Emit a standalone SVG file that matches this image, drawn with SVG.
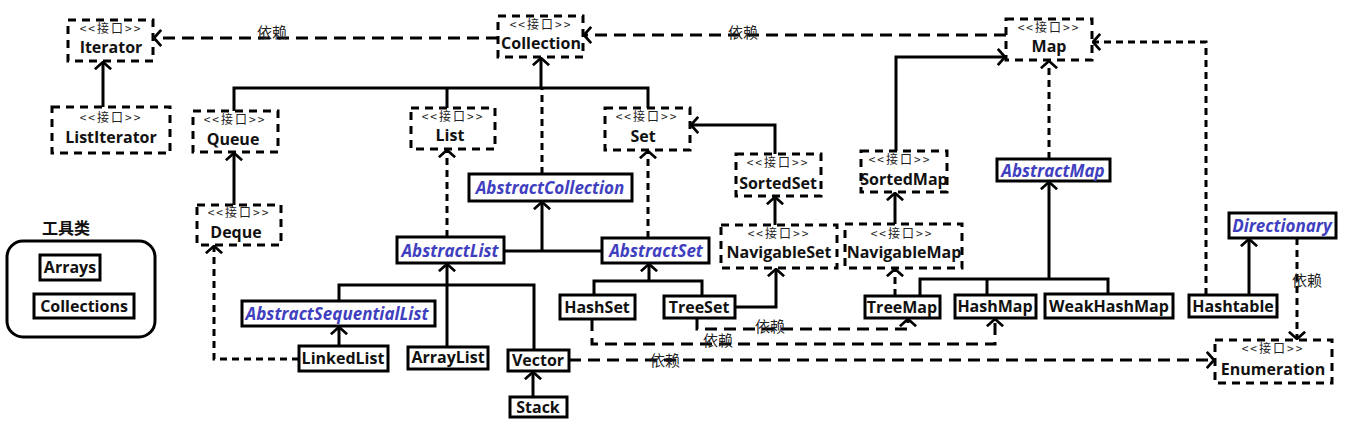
<svg xmlns="http://www.w3.org/2000/svg" width="1346" height="428" viewBox="0 0 1346 428">
<style>
.bg{fill:#fff}
.ibox{fill:#fff;stroke:#000;stroke-width:3;stroke-dasharray:8,6}
.cbox{fill:#fff;stroke:#000;stroke-width:3}
.st{font-family:"Noto Sans CJK SC","Noto Sans",sans-serif;font-size:12px;letter-spacing:2px;fill:#222;text-anchor:middle}
.nm{font-family:"Open Sans","Noto Sans",sans-serif;font-size:16px;font-weight:bold;fill:#111;text-anchor:middle}
.ab{font-family:"Open Sans","Noto Sans",sans-serif;font-size:17px;font-weight:bold;font-style:italic;fill:#3f3fbf;text-anchor:middle}
.lb{font-family:"Noto Sans CJK SC",sans-serif;font-size:15px;fill:#222;text-anchor:middle}
.sol{fill:none;stroke:#000;stroke-width:3}
.imp{fill:none;stroke:#000;stroke-width:3;stroke-dasharray:7,5}
.dep{fill:none;stroke:#000;stroke-width:3;stroke-dasharray:12,7}
</style>
<defs>
<marker id="arr" viewBox="0 0 10 20" refX="9" refY="10" markerWidth="9" markerHeight="18" orient="auto" markerUnits="userSpaceOnUse">
<path d="M1,1 L9,10 L1,19" fill="none" stroke="#000" stroke-width="3"/>
</marker>
</defs>
<rect class="bg" x="0" y="0" width="1346" height="428"/>

<g id="connectors">
<path class="sol" d="M103,107 V62" marker-end="url(#arr)"/>
<path class="sol" d="M234,111 V88 H648 V108 M447,88 V108"/>
<path class="sol" d="M541,88 V58" marker-end="url(#arr)"/>
<path class="sol" d="M234,205 V153" marker-end="url(#arr)"/>
<path class="sol" d="M775,154 V125 H691" marker-end="url(#arr)"/>
<path class="sol" d="M775,225 V197" marker-end="url(#arr)"/>
<path class="sol" d="M896,151 V57 H1005" marker-end="url(#arr)"/>
<path class="sol" d="M895,224 V193" marker-end="url(#arr)"/>
<path class="sol" d="M504,251 H602"/>
<path class="sol" d="M542,251 V202" marker-end="url(#arr)"/>
<path class="sol" d="M594,295 V281 H702 V296"/>
<path class="sol" d="M649,281 V264" marker-end="url(#arr)"/>
<path class="sol" d="M735,307 H776 V269" marker-end="url(#arr)"/>
<path class="sol" d="M447,347 V264" marker-end="url(#arr)"/>
<path class="sol" d="M339,301 V285 H534 V350"/>
<path class="sol" d="M339,346 V327" marker-end="url(#arr)"/>
<path class="sol" d="M533,397 V372" marker-end="url(#arr)"/>
<path class="sol" d="M920,296 V279 H1108 V294 M987,279 V295"/>
<path class="sol" d="M1049,279 V182" marker-end="url(#arr)"/>
<path class="sol" d="M1249,295 V239" marker-end="url(#arr)"/>
<path class="imp" d="M542,174 V88"/>
<path class="imp" d="M447,237 V150" marker-end="url(#arr)"/>
<path class="imp" d="M648,238 V151" marker-end="url(#arr)"/>
<path class="imp" d="M1049,159 V61" marker-end="url(#arr)"/>
<path class="imp" d="M895,296 V269" marker-end="url(#arr)"/>
<path class="imp" d="M1206,295 V42 H1093" marker-end="url(#arr)"/>
<path class="imp" d="M299,359 H214 V246" marker-end="url(#arr)"/>
<path class="imp" d="M1297,238 V339" marker-end="url(#arr)"/>
<path class="dep" d="M498,38 H154" marker-end="url(#arr)"/>
<path class="dep" d="M1006,35 H584" marker-end="url(#arr)"/>
<path class="dep" d="M697,318 V329 H908 V319" marker-end="url(#arr)"/>
<path class="dep" d="M592,319 V344 H995 V319" marker-end="url(#arr)"/>
<path class="dep" d="M569,360 H1214" marker-end="url(#arr)"/>
<text class="lb" x="272" y="38">依赖</text>
<text class="lb" x="743" y="38">依赖</text>
<text class="lb" x="770" y="332">依赖</text>
<text class="lb" x="718" y="346">依赖</text>
<text class="lb" x="665" y="366">依赖</text>
<text class="lb" x="1307" y="286">依赖</text>
</g>

<g id="Iterator"><rect class="ibox" x="68" y="20" width="85" height="41"/><text class="st" x="111" y="33">&lt;&lt;接口&gt;&gt;</text><text class="nm" x="111" y="53">Iterator</text></g>
<g id="ListIterator"><rect class="ibox" x="52" y="107" width="118" height="46"/><text class="st" x="111" y="122">&lt;&lt;接口&gt;&gt;</text><text class="nm" x="111" y="143">ListIterator</text></g>
<g id="Collection"><rect class="ibox" x="498" y="16" width="85" height="41"/><text class="st" x="541" y="29">&lt;&lt;接口&gt;&gt;</text><text class="nm" x="541" y="49">Collection</text></g>
<g id="Map"><rect class="ibox" x="1006" y="19" width="86" height="41"/><text class="st" x="1049" y="32">&lt;&lt;接口&gt;&gt;</text><text class="nm" x="1049" y="52">Map</text></g>
<g id="Queue"><rect class="ibox" x="193" y="111" width="85" height="41"/><text class="st" x="235" y="124">&lt;&lt;接口&gt;&gt;</text><text class="nm" x="233" y="145">Queue</text></g>
<g id="List"><rect class="ibox" x="411" y="108" width="84" height="41"/><text class="st" x="453" y="121">&lt;&lt;接口&gt;&gt;</text><text class="nm" x="450" y="141">List</text></g>
<g id="Set"><rect class="ibox" x="605" y="108" width="85" height="42"/><text class="st" x="647" y="121">&lt;&lt;接口&gt;&gt;</text><text class="nm" x="643" y="142">Set</text></g>
<g id="Deque"><rect class="ibox" x="197" y="205" width="84" height="40"/><text class="st" x="239" y="217">&lt;&lt;接口&gt;&gt;</text><text class="nm" x="236" y="238">Deque</text></g>
<g id="SortedSet"><rect class="ibox" x="736" y="154" width="85" height="42"/><text class="st" x="778" y="167">&lt;&lt;接口&gt;&gt;</text><text class="nm" x="778" y="189">SortedSet</text></g>
<g id="SortedMap"><rect class="ibox" x="861" y="151" width="86" height="41"/><text class="st" x="900" y="164">&lt;&lt;接口&gt;&gt;</text><text class="nm" x="904" y="185">SortedMap</text></g>
<g id="NavigableSet"><rect class="ibox" x="721" y="225" width="116" height="43"/><text class="st" x="779" y="238">&lt;&lt;接口&gt;&gt;</text><text class="nm" x="779" y="258">NavigableSet</text></g>
<g id="NavigableMap"><rect class="ibox" x="845" y="224" width="117" height="44"/><text class="st" x="902" y="238">&lt;&lt;接口&gt;&gt;</text><text class="nm" x="904" y="258">NavigableMap</text></g>
<g id="Enumeration"><rect class="ibox" x="1215" y="340" width="117" height="43"/><text class="st" x="1273" y="353">&lt;&lt;接口&gt;&gt;</text><text class="nm" x="1273" y="375">Enumeration</text></g>

<g id="AbstractCollection"><rect class="cbox" x="469" y="174" width="163" height="27"/><text class="ab" x="550" y="194">AbstractCollection</text></g>
<g id="AbstractList"><rect class="cbox" x="397" y="237" width="107" height="26"/><text class="ab" x="450" y="257">AbstractList</text></g>
<g id="AbstractSet"><rect class="cbox" x="602" y="238" width="107" height="25"/><text class="ab" x="656" y="257">AbstractSet</text></g>
<g id="AbstractMap"><rect class="cbox" x="997" y="159" width="113" height="22"/><text class="ab" x="1053" y="177">AbstractMap</text></g>
<g id="Directionary"><rect class="cbox" x="1229" y="213" width="107" height="25"/><text class="ab" x="1282" y="232">Directionary</text></g>
<g id="AbstractSequentialList"><rect class="cbox" x="242" y="301" width="193" height="25"/><text class="ab" x="337" y="320">AbstractSequentialList</text></g>

<g id="HashSet"><rect class="cbox" x="560" y="295" width="75" height="24"/><text class="nm" x="597" y="313">HashSet</text></g>
<g id="TreeSet"><rect class="cbox" x="664" y="296" width="71" height="22"/><text class="nm" x="699" y="313">TreeSet</text></g>
<g id="TreeMap"><rect class="cbox" x="865" y="296" width="75" height="22"/><text class="nm" x="902" y="313">TreeMap</text></g>
<g id="HashMap"><rect class="cbox" x="955" y="295" width="81" height="23"/><text class="nm" x="995" y="312">HashMap</text></g>
<g id="WeakHashMap"><rect class="cbox" x="1045" y="294" width="128" height="24"/><text class="nm" x="1109" y="312">WeakHashMap</text></g>
<g id="Hashtable"><rect class="cbox" x="1189" y="295" width="88" height="22"/><text class="nm" x="1233" y="312">Hashtable</text></g>
<g id="LinkedList"><rect class="cbox" x="299" y="346" width="89" height="25"/><text class="nm" x="343" y="364">LinkedList</text></g>
<g id="ArrayList"><rect class="cbox" x="408" y="347" width="80" height="22"/><text class="nm" x="448" y="363">ArrayList</text></g>
<g id="Vector"><rect class="cbox" x="508" y="350" width="61" height="21"/><text class="nm" x="538" y="366">Vector</text></g>
<g id="Stack"><rect class="cbox" x="510" y="397" width="57" height="20"/><text class="nm" x="538" y="413">Stack</text></g>

<g id="tools">
<text class="nm" x="66" y="234" style="font-family:'Noto Sans CJK SC',sans-serif">工具类</text>
<rect class="cbox" x="7" y="241" width="148" height="96" rx="16" ry="16"/>
</g>
<g id="Arrays"><rect class="cbox" x="40" y="255" width="60" height="25"/><text class="nm" x="70" y="273">Arrays</text></g>
<g id="Collections"><rect class="cbox" x="34" y="294" width="100" height="24"/><text class="nm" x="84" y="312">Collections</text></g>
</svg>
